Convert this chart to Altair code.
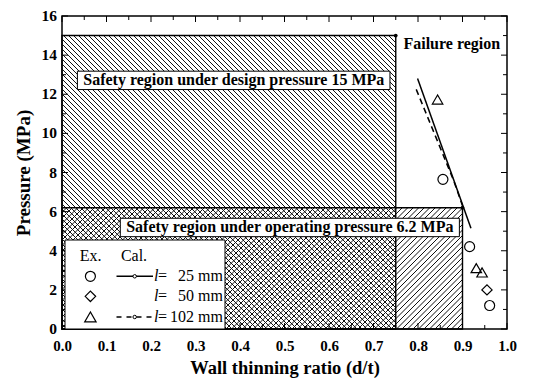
import altair as alt
import numpy as np
import pandas as pd

# ---------------- data ----------------
exp_x = [0.856, 0.916, 0.961, 0.955, 0.844, 0.931, 0.944]
exp_y = [7.65, 4.21, 1.20, 2.00, 11.73, 3.11, 2.89]
exp_series = ["l25", "l25", "l25", "l50", "l102", "l102", "l102"]

cal25_x = [0.799, 0.919]
cal25_y = [12.80, 5.15]
cal102_x = [0.796, 0.880, 0.900]
cal102_y = [12.25, 7.60, 6.30]

region_names = ["design", "operating"]
region_dt = [0.75, 0.90]      # wall thinning ratio limit
region_p = [15.0, 6.2]        # pressure limit (MPa)

x_ticks = [0.0, 0.1, 0.2, 0.3, 0.4, 0.5, 0.6, 0.7, 0.8, 0.9, 1.0]
y_ticks = [0, 2, 4, 6, 8, 10, 12, 14, 16]

# ---------------- layout ----------------
W, H = 445, 313
XMAX, YMAX = 1.0, 16.0
FONT = "Liberation Serif"

xscale = alt.Scale(domain=[0, XMAX], nice=False, zero=False)
yscale = alt.Scale(domain=[0, YMAX], nice=False, zero=False)
xaxis = alt.Axis(values=x_ticks, format=".1f", grid=False, ticks=False, domain=False,
                 labelFont=FONT, labelFontWeight="bold", labelFontSize=15, labelColor="black",
                 labelPadding=9, labelFlush=False, labelOverlap=False,
                 titleFont=FONT, titleFontWeight="bold",
                 titleFontSize=18.5, titleColor="black", titlePadding=5)
yaxis = alt.Axis(values=y_ticks, grid=False, ticks=False, domain=False, labels=False,
                 titleFont=FONT, titleFontWeight="bold",
                 titleFontSize=19, titleColor="black", titlePadding=29)
XT = "Wall thinning ratio (d/t)"
YT = "Pressure (MPa)"


def X(f):
    return alt.X(f, type="quantitative", scale=xscale, axis=xaxis, title=XT)


def Y(f):
    return alt.Y(f, type="quantitative", scale=yscale, axis=yaxis, title=YT)


# ---------------- hatch lines (decoration, computed from region bounds) ----------------
def hatch(x0, x1, y0, y1, kind, step=5.0):
    u0, u1 = x0 / XMAX * W, x1 / XMAX * W
    v0, v1 = y0 / YMAX * H, y1 / YMAX * H
    segs = []
    if kind == "back":   # '\' : u + v = c
        for c in np.arange(u0 + v0, u1 + v1 + step, step):
            lo, hi = max(u0, c - v1), min(u1, c - v0)
            if hi > lo:
                segs.append((lo, c - lo, hi, c - hi))
    else:                # '/' : v - u = c
        for c in np.arange(v0 - u1, v1 - u0 + step, step):
            lo, hi = max(u0, v0 - c), min(u1, v1 - c)
            if hi > lo:
                segs.append((lo, lo + c, hi, hi + c))
    return [dict(x=a / W * XMAX, y=b / H * YMAX, x2=c / W * XMAX, y2=d / H * YMAX)
            for a, b, c, d in segs]


hatch_rows = hatch(0, region_dt[0], 0, region_p[0], "back", 5.0) + \
    hatch(0, region_dt[1], 0, region_p[1], "fwd", 5.5)
hatch_df = pd.DataFrame(hatch_rows)

regions_df = pd.DataFrame({"name": region_names, "x0": 0.0, "x1": region_dt,
                           "y0": 0.0, "y1": region_p})
exp_df = pd.DataFrame({"x": exp_x, "y": exp_y, "s": exp_series})
cal25_df = pd.DataFrame({"x": cal25_x, "y": cal25_y})
cal102_df = pd.DataFrame({"x": cal102_x, "y": cal102_y})

xt_major = pd.DataFrame({"v": x_ticks})
xt_minor = pd.DataFrame({"v": [(a + b) / 2 for a, b in zip(x_ticks[:-1], x_ticks[1:])]})
yt_major = pd.DataFrame({"v": y_ticks})
yt_minor = pd.DataFrame({"v": [(a + b) / 2 for a, b in zip(y_ticks[:-1], y_ticks[1:])]})

one = alt.Data(values=[{"a": 1}])

layers = []

# hatching
layers.append(alt.Chart(hatch_df).mark_rule(color="#111111", strokeWidth=1.0).encode(
    x=X("x"), y=Y("y"), x2="x2", y2="y2"))

# region borders
layers.append(alt.Chart(regions_df).mark_rect(fillOpacity=0, stroke="black", strokeWidth=1.4).encode(
    x=X("x0"), x2="x1", y=Y("y0"), y2="y1"))
layers.append(alt.Chart(regions_df).mark_point(filled=True, color="black", size=14, opacity=1).encode(
    x=X("x1"), y=Y("y1")))

# inward ticks on all four sides
def tick_layers(df, axis_, L):
    out = []
    if axis_ == "x":
        out.append(alt.Chart(df).mark_rule(color="black", strokeWidth=1).encode(
            x=X("v"), y=alt.value(H), y2=alt.value(H - L)))
        out.append(alt.Chart(df).mark_rule(color="black", strokeWidth=1).encode(
            x=X("v"), y=alt.value(0), y2=alt.value(L)))
    else:
        out.append(alt.Chart(df).mark_rule(color="black", strokeWidth=1).encode(
            y=Y("v"), x=alt.value(0), x2=alt.value(L)))
        out.append(alt.Chart(df).mark_rule(color="black", strokeWidth=1).encode(
            y=Y("v"), x=alt.value(W), x2=alt.value(W - L)))
    return out


layers += tick_layers(xt_major, "x", 6)
layers += tick_layers(xt_minor, "x", 4)
layers += tick_layers(yt_major, "y", 6)
layers += tick_layers(yt_minor, "y", 4)

# y tick labels (drawn as text so that every label is shown)
layers.append(alt.Chart(yt_major).mark_text(font=FONT, fontWeight="bold", fontSize=15.5, color="black",
                                            align="right", baseline="middle").encode(
    y=Y("v"), x=alt.value(-5), text=alt.Text("v:Q", format="d")))

# region label boxes and texts
lab_style = dict(font=FONT, fontWeight="bold", fontSize=16, color="black", align="center", baseline="middle")
layers.append(alt.Chart(one).mark_rect(fill="white", stroke="black", strokeWidth=1).encode(
    x=alt.datum(0.0346, scale=xscale), x2=alt.datum(0.737),
    y=alt.datum(12.24, scale=yscale), y2=alt.datum(13.18)))
layers.append(alt.Chart(one).mark_text(**lab_style).encode(
    x=alt.datum(0.386, scale=xscale), y=alt.datum(12.71, scale=yscale),
    text=alt.value("Safety region under design pressure 15 MPa")))
layers.append(alt.Chart(one).mark_rect(fill="white", stroke="black", strokeWidth=1).encode(
    x=alt.datum(0.131, scale=xscale), x2=alt.datum(0.893),
    y=alt.datum(4.72, scale=yscale), y2=alt.datum(5.66)))
layers.append(alt.Chart(one).mark_text(**lab_style).encode(
    x=alt.datum(0.512, scale=xscale), y=alt.datum(5.19, scale=yscale),
    text=alt.value("Safety region under operating pressure 6.2 MPa")))
layers.append(alt.Chart(one).mark_text(**lab_style).encode(
    x=alt.datum(0.876, scale=xscale), y=alt.datum(14.59, scale=yscale),
    text=alt.value("Failure region")))

# calculated lines
layers.append(alt.Chart(cal25_df).mark_line(color="black", strokeWidth=1.5).encode(
    x=X("x"), y=Y("y")))
layers.append(alt.Chart(cal102_df).mark_line(color="black", strokeWidth=1.5, strokeDash=[6, 4]).encode(
    x=X("x"), y=Y("y")))

# experimental points
shape_scale = alt.Scale(domain=["l25", "l50", "l102"], range=["circle", "diamond", "triangle-up"])
size_scale = alt.Scale(domain=["l25", "l50", "l102"], range=[100, 110, 130])
layers.append(alt.Chart(exp_df).mark_point(filled=False, color="black", strokeWidth=1.2, opacity=1).encode(
    x=X("x"), y=Y("y"),
    shape=alt.Shape("s:N", scale=shape_scale, legend=None),
    size=alt.Size("s:N", scale=size_scale, legend=None)))

# ---------------- hand-made legend ----------------
layers.append(alt.Chart(one).mark_rect(fill="white", stroke="black", strokeWidth=1).encode(
    x=alt.value(3), x2=alt.value(163), y=alt.value(224), y2=alt.value(313)))
leg_txt = dict(font=FONT, fontSize=16, color="black", baseline="middle")
layers.append(alt.Chart(one).mark_text(align="center", **leg_txt).encode(
    x=alt.value(28.7), y=alt.value(239.5), text=alt.value("Ex.")))
layers.append(alt.Chart(one).mark_text(align="center", **leg_txt).encode(
    x=alt.value(72), y=alt.value(239.5), text=alt.value("Cal.")))
rows = [260.3, 280.3, 301.0]
shapes = ["circle", "diamond", "triangle-up"]
sizes = [100, 110, 130]
nums = ["25 mm", "50 mm", "102 mm"]
for ry, shp, sz, num in zip(rows, shapes, sizes, nums):
    layers.append(alt.Chart(one).mark_point(filled=False, color="black", strokeWidth=1.2, opacity=1,
                                            shape=shp, size=sz).encode(
        x=alt.value(28.4), y=alt.value(ry)))
    layers.append(alt.Chart(one).mark_text(align="left", fontStyle="italic", **leg_txt).encode(
        x=alt.value(92), y=alt.value(ry), text=alt.value("l")))
    layers.append(alt.Chart(one).mark_text(align="left", **leg_txt).encode(
        x=alt.value(96), y=alt.value(ry), text=alt.value("=")))
    layers.append(alt.Chart(one).mark_text(align="right", **leg_txt).encode(
        x=alt.value(161), y=alt.value(ry), text=alt.value(num)))

layers.append(alt.Chart(one).mark_rule(color="black", strokeWidth=1.5).encode(
    x=alt.value(54.5), x2=alt.value(91), y=alt.value(rows[0])))
layers.append(alt.Chart(one).mark_rule(color="black", strokeWidth=1.5, strokeDash=[5, 5]).encode(
    x=alt.value(54.5), x2=alt.value(91), y=alt.value(rows[2])))
for ry in (rows[0], rows[2]):
    layers.append(alt.Chart(one).mark_point(filled=True, fill="white", stroke="black", strokeWidth=1,
                                            size=12, opacity=1).encode(
        x=alt.value(72.7), y=alt.value(ry)))

chart = alt.layer(*layers).properties(
    width=W, height=H,
    padding={"left": 62, "top": 16, "right": 45, "bottom": 55},
    autosize=alt.AutoSizeParams(type="none"),
    background="white",
).configure_view(stroke="black", strokeWidth=1.5)

chart.save("out.html", embed_options={"renderer": "svg", "actions": False})
